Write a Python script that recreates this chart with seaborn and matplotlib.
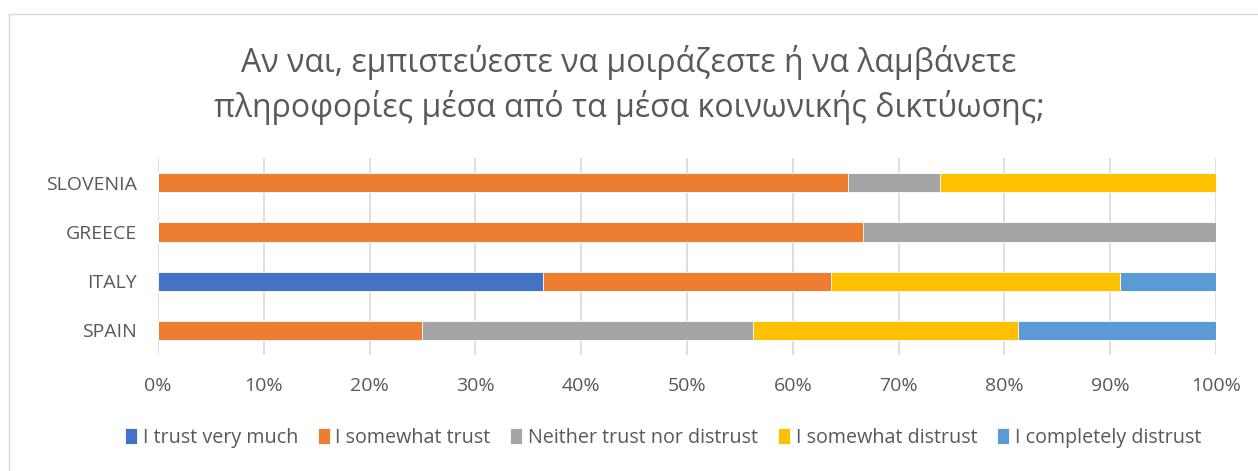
import numpy as np
import pandas as pd
import seaborn as sns
import matplotlib.pyplot as plt
from matplotlib.patches import Rectangle
from matplotlib.ticker import PercentFormatter

countries = ['SLOVENIA', 'GREECE', 'ITALY', 'SPAIN']
categories = ['I trust very much', 'I somewhat trust', 'Neither trust nor distrust',
              'I somewhat distrust', 'I completely distrust']
colors = ['#4472C4', '#ED7D31', '#A5A5A5', '#FFC000', '#5B9BD5']

# share of answers per country, in the order of categories
trust_very_much = [0.0, 0.0, 0.3636, 0.0]
somewhat_trust = [0.6522, 0.6667, 0.2727, 0.25]
neither = [0.0870, 0.3333, 0.0, 0.3125]
somewhat_distrust = [0.2609, 0.0, 0.2727, 0.25]
completely_distrust = [0.0, 0.0, 0.0909, 0.1875]

series = [trust_very_much, somewhat_trust, neither, somewhat_distrust, completely_distrust]

df = pd.DataFrame({'country': countries})
cum = np.zeros(len(countries))
for cat, vals in zip(categories, series):
    cum = cum + np.array(vals)
    df[cat] = cum

sns.set_style('white')
plt.rcParams['font.family'] = ['Open Sans', 'DejaVu Sans']
grey = '#595959'

fig = plt.figure(figsize=(12.58, 4.71), dpi=100)
ax = fig.add_axes([0.1256, 0.2463, 0.841, 0.418])

# draw cumulative bars from the end backwards so earlier segments sit on top
for i in range(len(categories) - 1, -1, -1):
    sns.barplot(data=df, x=categories[i], y='country', order=countries, orient='h',
                color=colors[i], saturation=1, width=0.39, edgecolor='white',
                linewidth=0.6, ax=ax, zorder=3, label=categories[i])

ax.set_xlim(0, 1)
ax.set_xticks(np.arange(0, 1.01, 0.1))
ax.xaxis.set_major_formatter(PercentFormatter(1.0, decimals=0))
ax.grid(axis='x', color='#D9D9D9', linewidth=1.2, zorder=0)
ax.set_axisbelow(True)
ax.set_xlabel('')
ax.set_ylabel('')
for s in ax.spines.values():
    s.set_visible(False)
ax.tick_params(axis='both', length=0, labelsize=14, labelcolor=grey)
ax.tick_params(axis='x', pad=16)
ax.tick_params(axis='y', pad=15)

handles, labels = ax.get_legend_handles_labels()
order = [labels.index(c) for c in categories]
leg = fig.legend([handles[k] for k in order], categories, loc='center',
                 bbox_to_anchor=(0.527, 0.07), ncol=5, frameon=False,
                 fontsize=14.2, handlelength=0.6, handleheight=0.9,
                 handletextpad=0.3, columnspacing=1.0)
for t in leg.get_texts():
    t.set_color(grey)
if ax.get_legend() is not None:
    ax.get_legend().remove()

fig.text(0.5, 0.82, 'Αν ναι, εμπιστεύεστε να μοιράζεστε ή να λαμβάνετε\n'
         'πληροφορίες μέσα από τα μέσα κοινωνικής δικτύωσης;',
         ha='center', va='center', fontsize=23, color=grey, linespacing=1.35)

fig.patches.append(Rectangle((0.007, -0.05), 1.2, 1.02, transform=fig.transFigure,
                             fill=False, edgecolor='#D9D9D9', linewidth=1))

fig.savefig('out.png', dpi=100)
